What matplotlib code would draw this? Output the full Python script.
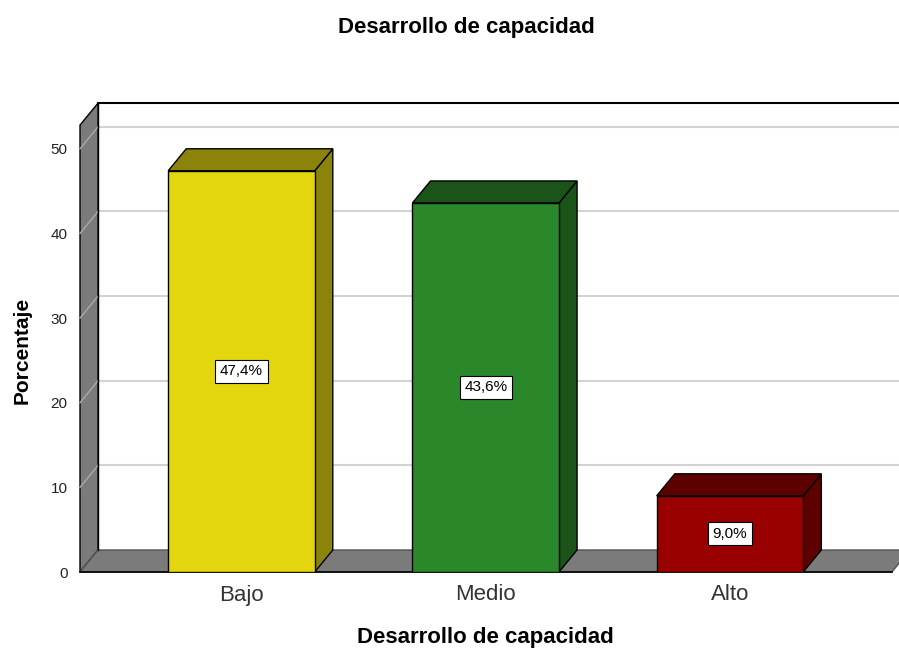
import matplotlib
matplotlib.use("Agg")
import matplotlib.pyplot as plt
from matplotlib.patches import Polygon

plt.rcParams['font.family'] = ['Liberation Sans', 'DejaVu Sans']

# datos
categorias = ['Bajo', 'Medio', 'Alto']
porcentajes = [47.4, 43.6, 9.0]
etiquetas = ['47,4%', '43,6%', '9,0%']
color_frente = ['#E3D60F', '#2A872A', '#990000']
color_lado = ['#8C840A', '#1B5418', '#5E0000']
ticks_y = [0, 10, 20, 30, 40, 50]

# geometria del "3D"
dx, dy = 0.074, 2.6      # profundidad
ancho = 0.60
x0, xf, xmax = -0.661, 2.663, 2.75
alto_pared = 52.8
gris = '#7B7B7B'
gris_grid = '#D3D3D3'

fig = plt.figure(figsize=(8.99, 6.49), dpi=100)
ax = fig.add_axes([80/899, 77/649, 819/899, 474/649])
ax.set_xlim(x0, 2.692)
ax.set_ylim(0, 56)
for s in ax.spines.values():
    s.set_visible(False)

# pared izquierda y piso
ax.add_patch(Polygon([(x0, 0), (x0, alto_pared), (x0+dx, alto_pared+dy), (x0+dx, dy)],
                     closed=True, fc=gris, ec='black', lw=1, clip_on=False, zorder=1))
ax.add_patch(Polygon([(x0, 0), (xf, 0), (xf+dx, dy), (x0+dx, dy)],
                     closed=True, fc=gris, ec='#555555', lw=1, clip_on=False, zorder=1))

# lineas de cuadricula
for v in ticks_y[1:]:
    ax.plot([x0, x0+dx], [v, v+dy], color='#AAAAAA', lw=1, zorder=2, clip_on=False)
    ax.plot([x0+dx, xmax], [v+dy, v+dy], color=gris_grid, lw=1.5, zorder=0.5, clip_on=False)

# borde superior de la pared de fondo
ax.plot([x0+dx, xmax], [alto_pared+dy, alto_pared+dy], color='black', lw=1.5, zorder=2, clip_on=False)
ax.plot([x0+dx, x0+dx], [dy, alto_pared+dy], color='black', lw=1, zorder=2, clip_on=False)
ax.plot([x0, xf], [0, 0], color='black', lw=1.2, zorder=2, clip_on=False)

# barras
for i, v in enumerate(porcentajes):
    l, r = i - ancho/2, i + ancho/2
    ax.add_patch(Polygon([(r, 0), (r+dx, dy), (r+dx, v+dy), (r, v)], closed=True,
                         fc=color_lado[i], ec='black', lw=1, zorder=3))
    ax.add_patch(Polygon([(l, v), (l+dx, v+dy), (r+dx, v+dy), (r, v)], closed=True,
                         fc=color_lado[i], ec='black', lw=1, zorder=3))
    ax.bar(i, v, width=ancho, color=color_frente[i], edgecolor='black', lw=1, zorder=4)
    ax.text(i, v/2, etiquetas[i], ha='center', va='center', fontsize=11, zorder=5,
            bbox=dict(boxstyle='square,pad=0.3', fc='white', ec='black', lw=0.8))

ax.set_yticks(ticks_y)
ax.tick_params(axis='y', length=0, pad=9, labelsize=11, labelcolor='#222222')
ax.set_xticks(range(len(categorias)))
ax.set_xticklabels(categorias)
ax.tick_params(axis='x', length=0, pad=9, labelsize=16, labelcolor='#333333')

fig.text(466/899, 1-27/649, 'Desarrollo de capacidad', ha='center', va='center',
         fontsize=16, fontweight='bold')
fig.text(485/899, 1-638/649, 'Desarrollo de capacidad', ha='center', va='center',
         fontsize=16, fontweight='bold')
fig.text(22/899, 1-350/649, 'Porcentaje', ha='center', va='center', rotation=90,
         fontsize=15, fontweight='bold')

fig.savefig('out.png', dpi=100)
